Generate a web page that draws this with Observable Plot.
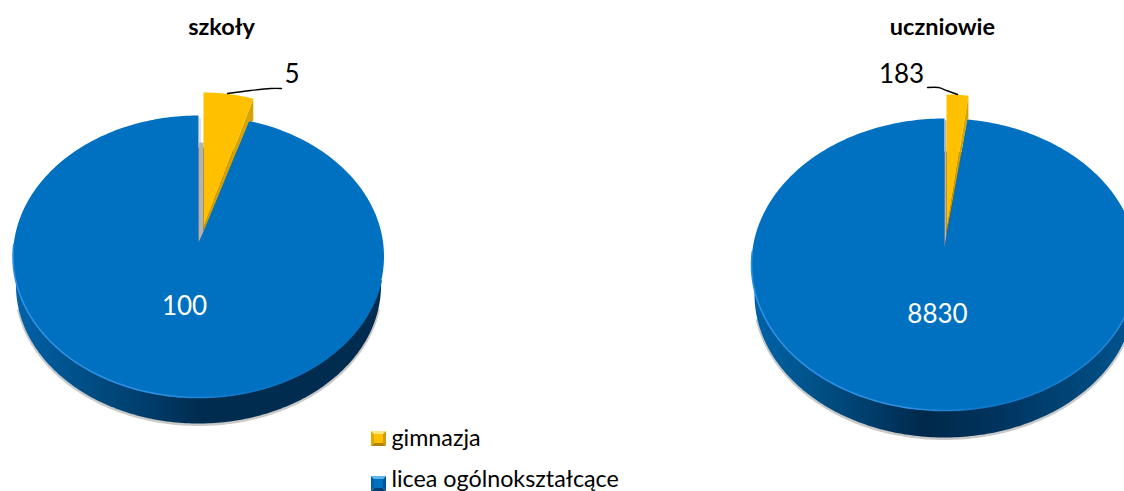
<!DOCTYPE html>
<html><head><meta charset="utf-8">
<style>html,body{margin:0;padding:0;background:#fff;overflow:hidden}</style>
<script src="https://cdn.jsdelivr.net/npm/d3@7"></script>
<script src="https://cdn.jsdelivr.net/npm/@observablehq/plot@0.6"></script>
</head><body><div id="chart"></div>
<script>
const categories = ["gimnazja", "licea ogólnokształcące"];
const titles = ["szkoły", "uczniowie"];
const schoolValues = [5, 100];
const pupilValues = [183, 8830];

const FONT = "Lato, Carlito, sans-serif";
const layouts = [
  {title:titles[0], values:schoolValues, cx:198, cy:256, rx:185.5, ry:141, apexY:242, depth:29,
   titleX:221, titleY:27, big:{x:184,y:306}, small:{x:291.5,y:74},
   yellow:{x:203,rimY:92,apexY:227,rx:169,wallRimDrop:22,wallApexDrop:4,wallNotch:4.5,gapTop:142},
   leader:[[227,93],[250,90],[270,88],[281,88]],
   wallStops:[[0,"#0062a8"],[0.15,"#00528c"],[0.35,"#003e6c"],[0.5,"#002c50"],[1,"#012c50"]],
   edgeStops:[[0,"#2f90e2"],[0.4,"#2f90e2"],[0.62,"#0f78c8"],[1,"#0070c0"]]},
  {title:titles[1], values:pupilValues, cx:944, cy:264, rx:193, ry:146, apexY:247, depth:30,
   titleX:942, titleY:27, big:{x:937,y:314}, small:{x:901,y:74},
   yellow:{x:946,rimY:94,apexY:231,rx:172,wallRimDrop:23,wallApexDrop:3,wallNotch:1,gapTop:120},
   leader:[[957,94],[946,90],[938,87],[927,87]],
   wallStops:[[0,"#0062a8"],[0.12,"#00568f"],[0.3,"#003e6c"],[0.45,"#00284a"],[0.65,"#003560"],[0.9,"#004a80"],[1,"#005592"]],
   edgeStops:[[0,"#2f90e2"],[0.4,"#2f90e2"],[0.62,"#0f78c8"],[0.85,"#1a80d0"],[1,"#2a8adc"]]}
];

const rad = t => t * Math.PI / 180;
const poly = (pts, fill, extra = {}) => Plot.line(pts, {x: d => d[0], y: d => d[1], curve: "linear-closed", stroke: "none", fill, ...extra});
const path = (pts, stroke, strokeWidth, extra = {}) => Plot.line(pts, {x: d => d[0], y: d => d[1], stroke, strokeWidth, ...extra});
const rim = (p, t) => [p.cx + p.rx * Math.sin(rad(t)), p.cy - p.ry * Math.cos(rad(t))];
const base = (p, t) => [p.cx + (p.rx - 3) * Math.sin(rad(t)), p.cy + p.depth - (p.ry - 3) * Math.cos(rad(t))];
const range = (a, b, n = 180) => d3.range(n + 1).map(i => a + (b - a) * i / n);

function pieMarks(p, i) {
  const total = d3.sum(p.values);
  const sweep = 360 * p.values[0] / total;
  const y = p.yellow;
  const wall = range(0, 360, 360).map(t => base(p, t));
  const shadow = range(100, 260).map(t => base(p, t));
  const blue = [[p.cx, p.apexY], ...range(sweep * 0.92, 360, 360).map(t => rim(p, t))];
  const yRim = range(0, sweep, 30).map(t => [y.x + y.rx * Math.sin(rad(t)), y.rimY + p.ry * (1 - Math.cos(rad(t)))]);
  const yEnd = yRim[yRim.length - 1];
  return [
    path(shadow.map(q => [q[0], q[1] + 1]), "#c9c9c9", 3),
    poly(wall, `url(#wall${i})`),
    poly(blue, "#0070c0"),
    path(range(100, 275).map(t => rim(p, t)), `url(#edge${i})`, 1.6),
    poly([[p.cx, p.apexY], [p.cx, y.gapTop], [y.x, y.gapTop], [y.x, y.apexY + 4]], "#b3b3b3"),
    path([[p.cx + 1.5, p.cy - p.ry + 3], [p.cx + 1.5, y.gapTop]], "#c4c4c4", 1),
    poly([yEnd, [yEnd[0], yEnd[1] + y.wallRimDrop], [yEnd[0] - y.wallNotch, yEnd[1] + y.wallRimDrop + 1], [y.x, y.apexY + y.wallApexDrop], [y.x, y.apexY]], "#d6a300"),
    poly([[y.x, y.apexY], ...yRim], "#ffc000"),
    path(p.leader, "#000", 1.4, {curve: "catmull-rom"}),
    Plot.text([p.values[1]], {x: p.big.x, y: p.big.y, text: d => String(d), fill: "#fff", fontSize: 26, fontFamily: FONT}),
    Plot.text([p.values[0]], {x: p.small.x, y: p.small.y, text: d => String(d), fill: "#000", fontSize: 26, fontFamily: FONT}),
    Plot.text([p.title], {x: p.titleX, y: p.titleY, text: d => d, fill: "#000", fontSize: 23.5, fontWeight: 700, fontFamily: FONT})
  ];
}

const swatchStyles = [
  {top:"#ffe680", left:"#e0a800", right:"#d09a00", bottom:"#b08400", inner:"#ffc000"},
  {top:"#5ab4f0", left:"#0062a8", right:"#005694", bottom:"#003f72", inner:"#0070c0"}
];
const legendY = [438, 483];
const legendTextY = [438, 479];
function legendMarks() {
  const out = [];
  categories.forEach((c, i) => {
    const s = swatchStyles[i], x0 = 370.5, x1 = 385.5, y0 = legendY[i] - 7.5, y1 = legendY[i] + 7.5, b = 3;
    const a = [x0, y0], t = [x1, y0], r = [x1, y1], l = [x0, y1];
    const ia = [x0 + b, y0 + b], it = [x1 - b, y0 + b], ir = [x1 - b, y1 - b], il = [x0 + b, y1 - b];
    out.push(poly([a, t, it, ia], s.top), poly([t, r, ir, it], s.right), poly([r, l, il, ir], s.bottom), poly([l, a, ia, il], s.left), poly([ia, it, ir, il], s.inner));
    out.push(Plot.text([c], {x: 391, y: legendTextY[i], text: d => d, textAnchor: "start", fill: "#000", fontSize: 23.3, fontFamily: FONT}));
  });
  return out;
}

function defs() {
  const d = d3.create("svg:defs");
  layouts.forEach((p, i) => {
    const g = d.append("linearGradient").attr("id", `wall${i}`).attr("x1", 0).attr("x2", 1).attr("y1", 0).attr("y2", 0);
    p.wallStops.forEach(([o, c]) => g.append("stop").attr("offset", o).attr("stop-color", c));
    const e = d.append("linearGradient").attr("id", `edge${i}`).attr("x1", 0).attr("x2", 1).attr("y1", 0).attr("y2", 0);
    p.edgeStops.forEach(([o, c]) => e.append("stop").attr("offset", o).attr("stop-color", c));
  });
  return d.node();
}

const chart = Plot.plot({
  width: 1124, height: 491, margin: 0,
  x: {type: "identity", axis: null}, y: {type: "identity", axis: null},
  style: {background: "#fff", overflow: "hidden"},
  marks: [defs, ...layouts.flatMap(pieMarks), ...legendMarks()]
});
document.getElementById("chart").appendChild(chart);
</script></body></html>
